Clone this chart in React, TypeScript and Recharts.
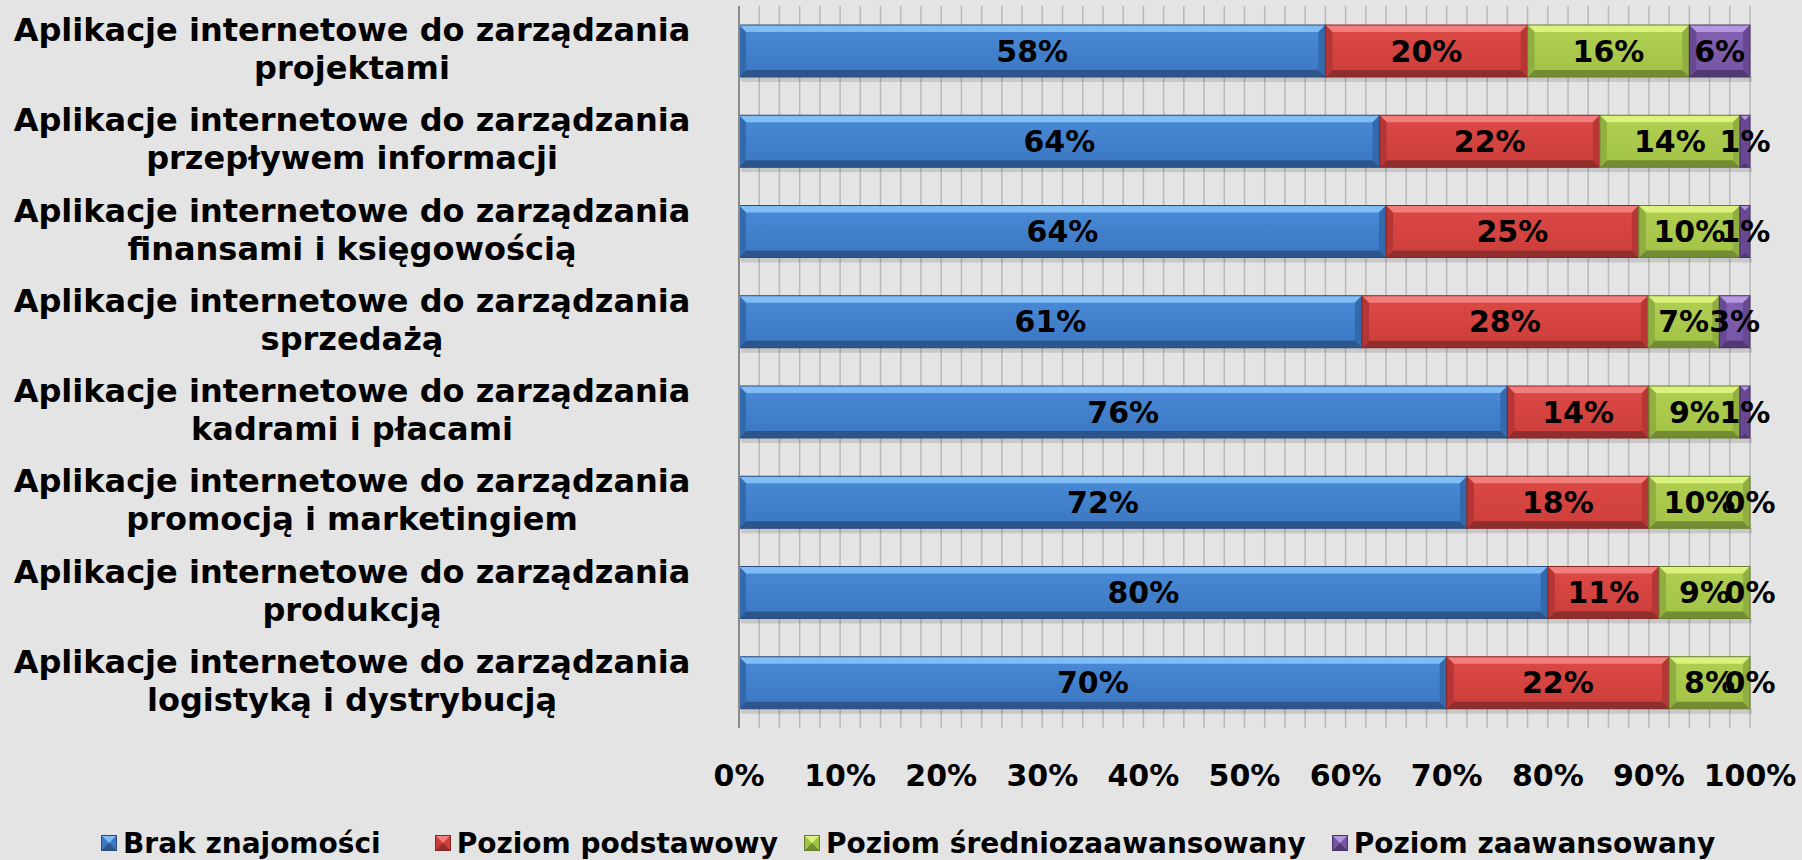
import React from 'react'
import { BarChart, Bar, XAxis, YAxis, CartesianGrid, Legend, LabelList } from 'recharts'

const categories = [
    'Aplikacje internetowe do zarządzania\nprojektami',
    'Aplikacje internetowe do zarządzania\nprzepływem informacji',
    'Aplikacje internetowe do zarządzania\nfinansami i księgowością',
    'Aplikacje internetowe do zarządzania\nsprzedażą',
    'Aplikacje internetowe do zarządzania\nkadrami i płacami',
    'Aplikacje internetowe do zarządzania\npromocją i marketingiem',
    'Aplikacje internetowe do zarządzania\nprodukcją',
    'Aplikacje internetowe do zarządzania\nlogistyką i dystrybucją',
]
const brakZnajomosci = [58, 64, 64, 61, 76, 72, 80, 70]
const poziomPodstawowy = [20, 22, 25, 28, 14, 18, 11, 22]
const poziomSrednio = [16, 14, 10, 7, 9, 10, 9, 8]
const poziomZaawansowany = [6, 1, 1, 3, 1, 0, 0, 0]
const seriesNames = ['Brak znajomości', 'Poziom podstawowy', 'Poziom średniozaawansowany', 'Poziom zaawansowany']
const xTicks = [0, 0.1, 0.2, 0.3, 0.4, 0.5, 0.6, 0.7, 0.8, 0.9, 1]

const data = categories.map((name, i) => ({
    name,
    brak: brakZnajomosci[i],
    podst: poziomPodstawowy[i],
    sred: poziomSrednio[i],
    zaaw: poziomZaawansowany[i],
}))

const FONT = '"DejaVu Sans", Verdana, sans-serif'

const palette = [
    { id: 'blue', top: '#4a8ad6', face: '#3b77c2', light: '#80bdf5', dark: '#2b558b', side: '#336aae', edge: '#2a4c7c' },
    { id: 'red', top: '#dc4a47', face: '#cc3d3a', light: '#f27d7b', dark: '#8f2e2c', side: '#b53634', edge: '#842927' },
    { id: 'green', top: '#b1d052', face: '#a2c247', light: '#dcf27f', dark: '#738b33', side: '#91ae40', edge: '#66802d' },
    { id: 'purple', top: '#8462b3', face: '#7654a3', light: '#b596e0', dark: '#503872', side: '#684892', edge: '#473263' },
]

const BevelBar = (props: any) => {
    const { x, y, width, height, c } = props
    if (!width || width <= 0) return null
    const b = Math.min(7, width / 2)
    const gid = `face-${c.id}`
    return (
        <g>
            <defs>
                <linearGradient id={gid} x1="0" y1="0" x2="0" y2="1">
                    <stop offset="0%" stopColor={c.top} />
                    <stop offset="100%" stopColor={c.face} />
                </linearGradient>
            </defs>
            <rect x={x + 2} y={y + height} width={width} height={5} fill="#000" opacity={0.12} />
            <rect x={x} y={y} width={width} height={height} fill={`url(#${gid})`} />
            <polygon points={`${x},${y} ${x + width},${y} ${x + width - b},${y + b} ${x + b},${y + b}`} fill={c.light} />
            <polygon points={`${x},${y + height} ${x + width},${y + height} ${x + width - b},${y + height - b} ${x + b},${y + height - b}`} fill={c.dark} />
            <polygon points={`${x},${y} ${x + b},${y + b} ${x + b},${y + height - b} ${x},${y + height}`} fill={c.side} />
            <polygon points={`${x + width},${y} ${x + width - b},${y + b} ${x + width - b},${y + height - b} ${x + width},${y + height}`} fill={c.side} />
            <rect x={x} y={y} width={width} height={height} fill="none" stroke={c.edge} strokeWidth={1} />
        </g>
    )
}

const CategoryTick = ({ y, payload }: any) => {
    const lines = String(payload.value).split('\n')
    return (
        <text x={352} y={y} textAnchor="middle" fontFamily={FONT} fontWeight="bold" fontSize={32} fill="#000">
            {lines.map((l, i) => (
                <tspan key={i} x={352} dy={i === 0 ? -10 : 38}>
                    {l}
                </tspan>
            ))}
        </text>
    )
}

const LegendMarker = ({ c }: any) => (
    <svg width={16} height={16} style={{ marginRight: 6 }}>
        <rect x={0} y={0} width={16} height={16} fill={c.face} />
        <polygon points="0,0 16,0 8,8" fill={c.light} />
        <polygon points="0,16 16,16 8,8" fill={c.dark} />
        <rect x={0.5} y={0.5} width={15} height={15} fill="none" stroke={c.edge} />
    </svg>
)

const legendGaps = [54, 26, 26, 0]

const LegendContent = () => (
    <div
        style={{
            display: 'flex',
            alignItems: 'center',
            height: 34,
            paddingLeft: 101,
            fontFamily: FONT,
            fontWeight: 'bold',
            fontSize: 28,
            color: '#000',
            whiteSpace: 'nowrap',
        }}
    >
        {seriesNames.map((n, i) => (
            <span key={n} style={{ display: 'flex', alignItems: 'center', marginRight: legendGaps[i] }}>
                <LegendMarker c={palette[i]} />
                {n}
            </span>
        ))}
    </div>
)

const labelStyle = { fontFamily: FONT, fontWeight: 'bold', fontSize: 30, fill: '#000' } as any
const pct = (v: any) => `${v}%`

export default function App() {
    return (
        <div style={{ width: 1802, height: 860, background: '#e4e4e4' }}>
            <style>{'body{margin:0;background:#e4e4e4}'}</style>
            <BarChart
                width={1802}
                height={860}
                data={data}
                layout="vertical"
                stackOffset="expand"
                barSize={52}
                margin={{ top: 6, right: 52, left: 0, bottom: 0 }}
            >
                <CartesianGrid
                    horizontal={false}
                    stroke="#b9b9b9"
                    strokeWidth={1.5}
                    verticalCoordinatesGenerator={({ offset }: any) =>
                        Array.from({ length: 51 }, (_, i) => offset.left + (offset.width * i) / 50)
                    }
                />
                <XAxis
                    type="number"
                    domain={[0, 1]}
                    ticks={xTicks}
                    tickFormatter={(v) => `${Math.round(v * 100)}%`}
                    axisLine={false}
                    tickLine={false}
                    tickSize={0}
                    tickMargin={37}
                    height={98}
                    interval={0}
                    tick={{ fontFamily: FONT, fontWeight: 'bold', fontSize: 30, fill: '#000' }}
                />
                <YAxis
                    type="category"
                    dataKey="name"
                    width={739}
                    axisLine={{ stroke: '#8a8a8a', strokeWidth: 2 }}
                    tickLine={false}
                    tick={<CategoryTick />}
                    interval={0}
                />
                <Legend verticalAlign="bottom" content={<LegendContent />} wrapperStyle={{ left: 0, width: 1802 }} />
                <Bar dataKey="brak" name={seriesNames[0]} stackId="a" isAnimationActive={false} shape={(p: any) => <BevelBar {...p} c={palette[0]} />}>
                    <LabelList dataKey="brak" position="center" formatter={pct} style={labelStyle} />
                </Bar>
                <Bar dataKey="podst" name={seriesNames[1]} stackId="a" isAnimationActive={false} shape={(p: any) => <BevelBar {...p} c={palette[1]} />}>
                    <LabelList dataKey="podst" position="center" formatter={pct} style={labelStyle} />
                </Bar>
                <Bar dataKey="sred" name={seriesNames[2]} stackId="a" isAnimationActive={false} shape={(p: any) => <BevelBar {...p} c={palette[2]} />}>
                    <LabelList dataKey="sred" position="center" formatter={pct} style={labelStyle} />
                </Bar>
                <Bar dataKey="zaaw" name={seriesNames[3]} stackId="a" isAnimationActive={false} shape={(p: any) => <BevelBar {...p} c={palette[3]} />}>
                    <LabelList dataKey="zaaw" position="center" formatter={pct} style={labelStyle} />
                </Bar>
            </BarChart>
        </div>
    )
}
